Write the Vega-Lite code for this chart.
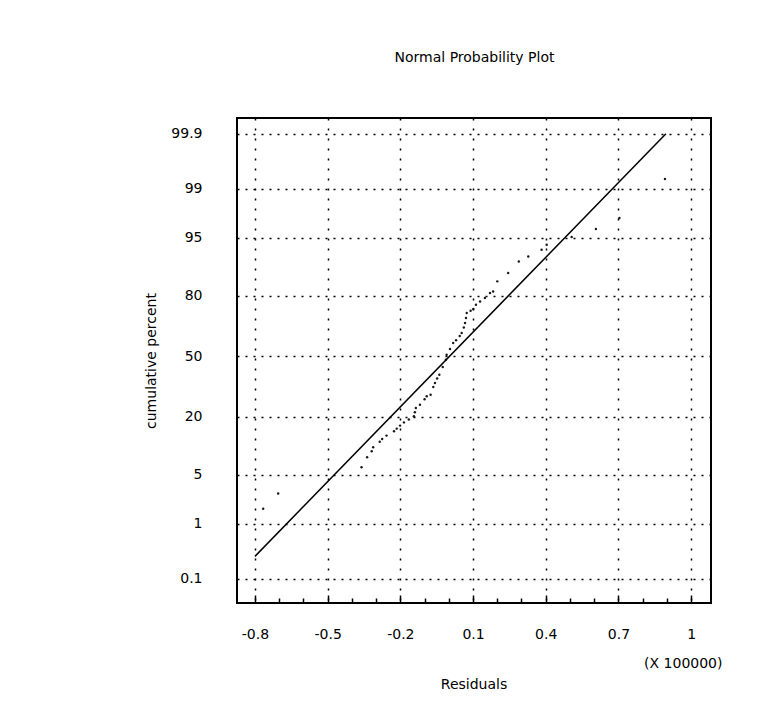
{
  "$schema": "https://vega.github.io/schema/vega-lite/v6.json",
  "width": 474,
  "height": 485,
  "autosize": {"type": "none"},
  "padding": {"left": 237, "top": 118, "right": 66, "bottom": 122},
  "background": "white",
  "title": {"text": "Residuals", "orient": "bottom", "anchor": "middle", "offset": 8, "font": "DejaVu Sans", "fontSize": 14, "fontWeight": "normal", "color": "black"},
  "datasets": {
    "points": [
      {"residual": -0.766, "pct": 1.70},
      {"residual": -0.704, "pct": 2.81},
      {"residual": -0.360, "pct": 6.12},
      {"residual": -0.337, "pct": 8.00},
      {"residual": -0.318, "pct": 9.31},
      {"residual": -0.312, "pct": 10.26},
      {"residual": -0.285, "pct": 11.70},
      {"residual": -0.275, "pct": 12.51},
      {"residual": -0.257, "pct": 13.48},
      {"residual": -0.226, "pct": 14.82},
      {"residual": -0.215, "pct": 15.70},
      {"residual": -0.201, "pct": 16.73},
      {"residual": -0.185, "pct": 17.88},
      {"residual": -0.165, "pct": 18.94},
      {"residual": -0.144, "pct": 20.16},
      {"residual": -0.140, "pct": 21.77},
      {"residual": -0.136, "pct": 23.58},
      {"residual": -0.119, "pct": 25.02},
      {"residual": -0.100, "pct": 27.43},
      {"residual": -0.091, "pct": 28.84},
      {"residual": -0.075, "pct": 29.63},
      {"residual": -0.064, "pct": 33.43},
      {"residual": -0.057, "pct": 35.49},
      {"residual": -0.048, "pct": 37.83},
      {"residual": -0.039, "pct": 39.86},
      {"residual": -0.025, "pct": 44.04},
      {"residual": -0.012, "pct": 48.01},
      {"residual": -0.009, "pct": 50.80},
      {"residual": 0.005, "pct": 53.98},
      {"residual": 0.018, "pct": 57.26},
      {"residual": 0.030, "pct": 58.71},
      {"residual": 0.045, "pct": 61.03},
      {"residual": 0.053, "pct": 62.63},
      {"residual": 0.062, "pct": 65.54},
      {"residual": 0.067, "pct": 67.76},
      {"residual": 0.071, "pct": 70.19},
      {"residual": 0.074, "pct": 72.57},
      {"residual": 0.090, "pct": 73.57},
      {"residual": 0.101, "pct": 74.38},
      {"residual": 0.112, "pct": 76.27},
      {"residual": 0.129, "pct": 77.64},
      {"residual": 0.149, "pct": 79.05},
      {"residual": 0.170, "pct": 81.00},
      {"residual": 0.183, "pct": 81.59},
      {"residual": 0.200, "pct": 85.08},
      {"residual": 0.245, "pct": 87.60},
      {"residual": 0.289, "pct": 90.61},
      {"residual": 0.328, "pct": 91.71},
      {"residual": 0.383, "pct": 93.04},
      {"residual": 0.404, "pct": 93.93},
      {"residual": 0.507, "pct": 95.11},
      {"residual": 0.607, "pct": 96.14},
      {"residual": 0.704, "pct": 97.26},
      {"residual": 0.892, "pct": 99.31}
    ],
    "fit": [
      {"residual": -0.8, "pct": 0.27},
      {"residual": 0.896, "pct": 99.9}
    ]
  },
  "layer": [
    {
      "data": {"name": "points"},
      "transform": [{"calculate": "quantileNormal(datum.pct / 100)", "as": "z"}],
      "mark": {"type": "circle", "size": 6, "color": "black", "opacity": 0.9},
      "encoding": {
        "x": {
          "field": "residual", "type": "quantitative",
          "scale": {"domain": [-0.874, 1.082], "nice": false, "zero": false},
          "axis": {
            "orient": "bottom",
            "values": [-0.8, -0.7, -0.6, -0.5, -0.4, -0.3, -0.2, -0.1, 0, 0.1, 0.2, 0.3, 0.4, 0.5, 0.6, 0.7, 0.8, 0.9, 1.0],
            "labelExpr": "abs(round(datum.value * 10) + 8) % 3 == 0 ? '' + datum.value : ''",
            "domain": false,
            "ticks": true,
            "tickColor": "black",
            "tickWidth": 1.5,
            "tickSize": -8,
            "tickDash": {"condition": {"test": "abs(round(datum.value * 10) + 8) % 3 == 0", "value": [8, 0]}, "value": [5, 100]},
            "grid": true,
            "gridColor": "black",
            "gridWidth": 1.5,
            "gridDash": [2, 8],
            "gridOpacity": {"condition": {"test": "abs(round(datum.value * 10) + 8) % 3 == 0", "value": 1}, "value": 0},
            "labelPadding": 32,
            "labelFlush": false,
            "labelOverlap": false,
            "title": "(X 100000)",
            "titleX": 485,
            "titleY": 60,
            "titleAlign": "right",
            "titleBaseline": "middle"
          }
        },
        "y": {
          "field": "z", "type": "quantitative",
          "scale": {"domain": [-3.43, 3.31], "nice": false, "zero": false},
          "axis": {
            "values": [-3.0902, -2.3263, -1.6449, -0.8416, 0, 0.8416, 1.6449, 2.3263, 3.0902],
            "labelExpr": "'' + round(cumulativeNormal(datum.value) * 1000) / 10",
            "domain": false,
            "ticks": false,
            "grid": true,
            "gridColor": "black",
            "gridWidth": 1.5,
            "gridDash": [2, 6],
            "labelPadding": 35,
            "labelOverlap": false,
            "title": "cumulative percent",
            "titlePadding": 12
          }
        }
      }
    },
    {
      "data": {"name": "fit"},
      "transform": [{"calculate": "quantileNormal(datum.pct / 100)", "as": "z"}],
      "mark": {"type": "line", "color": "black", "strokeWidth": 1.5},
      "encoding": {
        "x": {
          "field": "residual", "type": "quantitative",
          "scale": {"domain": [-0.874, 1.082], "nice": false, "zero": false},
          "axis": {
            "orient": "top",
            "labels": false,
            "ticks": false,
            "domain": false,
            "grid": false,
            "title": "Normal Probability Plot",
            "titleY": -61,
            "titleBaseline": "middle"
          }
        },
        "y": {"field": "z", "type": "quantitative", "scale": {"domain": [-3.43, 3.31], "nice": false, "zero": false}}
      }
    }
  ],
  "resolve": {"scale": {"x": "independent"}, "axis": {"x": "independent"}},
  "config": {
    "view": {"stroke": "black", "strokeWidth": 2},
    "axis": {
      "labelFont": "DejaVu Sans",
      "labelFontSize": 14,
      "labelColor": "black",
      "titleFont": "DejaVu Sans",
      "titleFontSize": 14,
      "titleFontWeight": "normal",
      "titleColor": "black"
    }
  }
}
